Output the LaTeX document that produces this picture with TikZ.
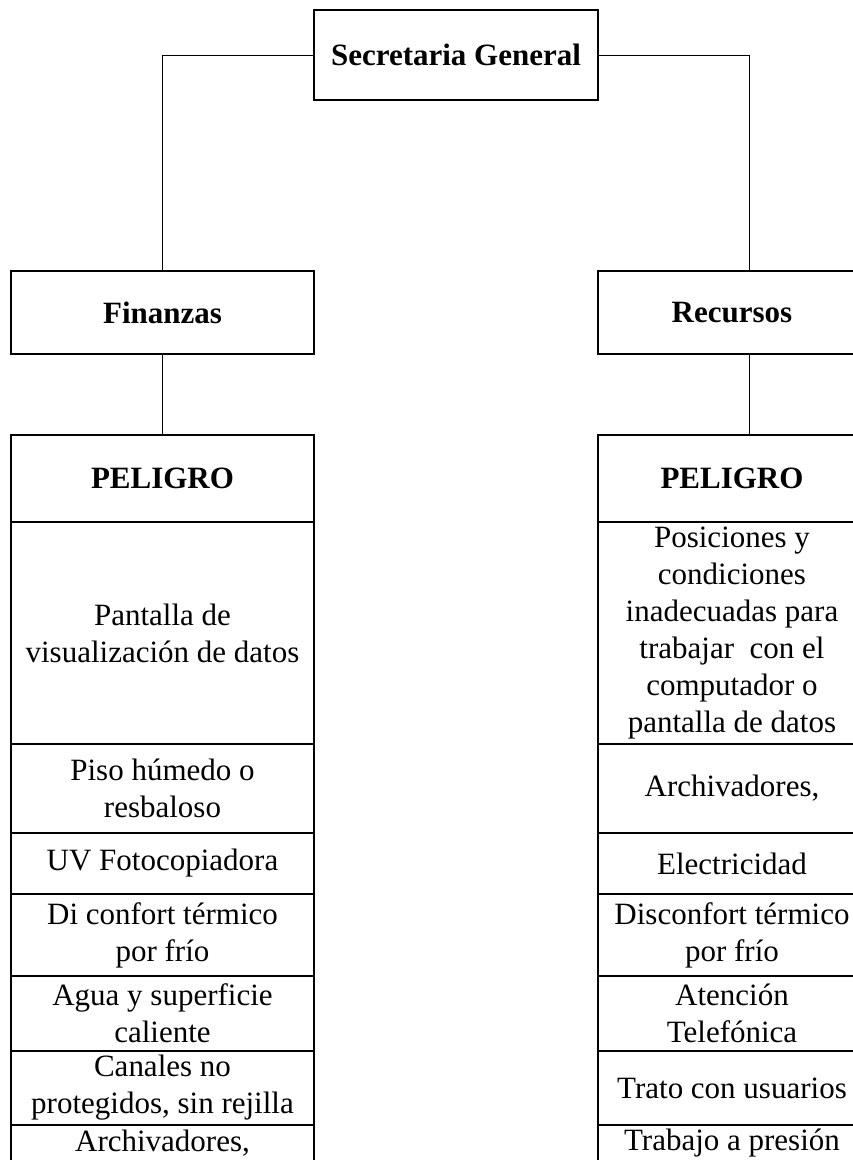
\documentclass[tikz,border=0pt]{standalone}
\usepackage{fontspec}
\setmainfont{Liberation Serif}
\begin{document}
\begin{tikzpicture}[x=1pt,y=-1pt,
  cell/.style={draw=black,line width=1.6pt,rectangle,inner sep=0pt,align=center,
     font=\fontsize{31}{37}\selectfont},
  bcell/.style={cell,font=\fontsize{31}{37}\selectfont\bfseries},
  lcol/.style={minimum width=303pt},
  rcol/.style={minimum width=268pt},
  conn/.style={draw=black,line width=1pt}]
\useasboundingbox (0,0) rectangle (853,1160);
\clip (0,0) rectangle (853,1160);
% top
\node[bcell,minimum width=284pt,minimum height=90pt] (sec) at (456,55) {Secretaria General};
\node[bcell,lcol,minimum height=83pt] (fin) at (162.5,312.5) {Finanzas};
\node[bcell,rcol,minimum height=83pt] (rec) at (732,312.5) {Recursos};
\coordinate (rx) at (749,0);
% left column
\node[bcell,lcol,minimum height=87pt] (pl) at (162.5,478.5) {PELIGRO};
\node[cell,lcol,minimum height=222pt] (l1) at (162.5,633) {Pantalla de\\visualización de datos};
\node[cell,lcol,minimum height=89pt] (l2) at (162.5,788.5) {Piso húmedo o\\resbaloso};
\node[cell,lcol,minimum height=61pt] (l3) at (162.5,863.5) {UV Fotocopiadora};
\node[cell,lcol,minimum height=82pt] (l4) at (162.5,935) {Di confort térmico\\por frío};
\node[cell,lcol,minimum height=75pt] (l5) at (162.5,1013.5) {Agua y superficie\\caliente};
\node[cell,lcol,minimum height=74pt] (l6) at (162.5,1088) {Canales no\\protegidos, sin rejilla};
\node[cell,lcol,minimum height=80pt] (l7) at (162.5,1165) {};
\node[font=\fontsize{31}{37}\selectfont] (l7t) at (162.5,1143) {Archivadores,};
% right column
\node[bcell,rcol,minimum height=87pt] (pr) at (732,478.5) {PELIGRO};
\node[cell,rcol,minimum height=222pt] (r1) at (732,633) {Posiciones y\\condiciones\\inadecuadas para\\trabajar\ \ con el\\computador o\\pantalla de datos};
\node[cell,rcol,minimum height=89pt] (r2) at (732,788.5) {Archivadores,};
\node[cell,rcol,minimum height=61pt] (r3) at (732,863.5) {Electricidad};
\node[cell,rcol,minimum height=82pt] (r4) at (732,935) {Disconfort térmico\\por frío};
\node[cell,rcol,minimum height=75pt] (r5) at (732,1013.5) {Atención\\Telefónica};
\node[cell,rcol,minimum height=74pt] (r6) at (732,1088) {Trato con usuarios};
\node[cell,rcol,minimum height=80pt] (r7) at (732,1165) {};
\node[font=\fontsize{31}{37}\selectfont] (r7t) at (732,1143) {Trabajo a presión};
% connectors
\draw[conn] (sec.west) -| (fin.north);
\draw[conn] (sec.east) -| (rec.north -| rx);
\draw[conn] (fin.south) -- (pl.north);
\draw[conn] (rec.south -| rx) -- (pr.north -| rx);
\end{tikzpicture}
\end{document}
